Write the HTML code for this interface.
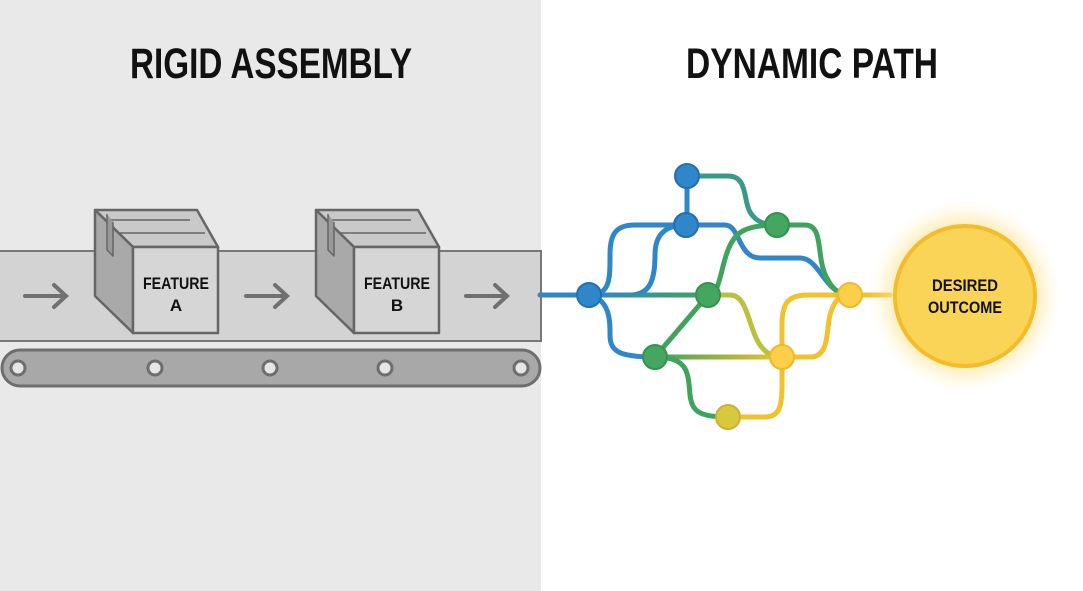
<!DOCTYPE html>
<html><head><meta charset="utf-8"><style>
html,body{margin:0;padding:0;width:1083px;height:591px;overflow:hidden;background:#fff}
svg{display:block}
text{font-family:"Liberation Sans",sans-serif;font-weight:bold}
</style></head><body>
<svg width="1083" height="591" viewBox="0 0 1083 591">
<defs>
<linearGradient id="bg" gradientUnits="userSpaceOnUse" x1="589" y1="0" x2="708" y2="0"><stop offset="0" stop-color="#2f86c8"/><stop offset="1" stop-color="#3fa35e"/></linearGradient>
<linearGradient id="gy" gradientUnits="userSpaceOnUse" x1="655" y1="0" x2="782" y2="0"><stop offset="0" stop-color="#3fa35e"/><stop offset="1" stop-color="#f3c12e"/></linearGradient>
<radialGradient id="glow"><stop offset="0.6" stop-color="#fbd86a" stop-opacity="0.9"/><stop offset="1" stop-color="#fff3c8" stop-opacity="0"/></radialGradient>
</defs>
<rect x="0" y="0" width="541" height="591" fill="#e9e9e9"/>
<text x="271" y="78" font-size="43" text-anchor="middle" textLength="282" lengthAdjust="spacingAndGlyphs" fill="#111">RIGID ASSEMBLY</text>
<text x="812" y="78" font-size="43" text-anchor="middle" textLength="252" lengthAdjust="spacingAndGlyphs" fill="#111">DYNAMIC PATH</text>
<!-- belt -->
<rect x="-2" y="251" width="543" height="90" fill="#d3d3d3" stroke="#777" stroke-width="2"/>
<rect x="2" y="350" width="538" height="36" rx="18" fill="#a8a8a8" stroke="#6e6e6e" stroke-width="3"/>
<g fill="#e6e6e6" stroke="#6e6e6e" stroke-width="3">
<circle cx="18" cy="368" r="7"/><circle cx="155" cy="368" r="7"/><circle cx="270" cy="368" r="7"/><circle cx="385" cy="368" r="7"/><circle cx="521" cy="368" r="7"/></g>
<g stroke="#707070" stroke-width="4" fill="none" stroke-linecap="round">
<path d="M25 296H66M54 285L66 296L54 307"/>
<path d="M246 296H287M275 285L287 296L275 307"/>
<path d="M466 296H507M495 285L507 296L495 307"/>
</g>
<!-- boxes -->
<g id="box" stroke="#666" stroke-width="2.5" stroke-linejoin="round">
<path d="M95 210H197L218 247H133Z" fill="#c9c9c9"/>
<path d="M95 210L133 247V333L95 296Z" fill="#a9a9a9"/>
<rect x="133" y="247" width="85" height="86" fill="#d6d6d6"/>
<path d="M105 220H190M118 233H205" fill="none" stroke-width="1.5"/>
<path d="M107 214V250L113 256V222" fill="#999" stroke-width="1.5"/>
</g>
<text x="176" y="289" font-size="17" text-anchor="middle" textLength="66" lengthAdjust="spacingAndGlyphs" fill="#111">FEATURE</text>
<text x="176" y="311" font-size="17" text-anchor="middle" fill="#111">A</text>
<use href="#box" transform="translate(221 0)"/>
<text x="397" y="289" font-size="17" text-anchor="middle" textLength="66" lengthAdjust="spacingAndGlyphs" fill="#111">FEATURE</text>
<text x="397" y="311" font-size="17" text-anchor="middle" fill="#111">B</text>
<!-- network -->
<g fill="none" stroke-width="5" stroke-linecap="round">
<path d="M540 295H589" stroke="#2f86c8"/>
<path d="M589 295C610 295 610 280 610 255C610 235 615 225 635 225H686" stroke="#2f86c8"/>
<path d="M630 295C650 295 655 280 655 255C655 235 665 225 686 225" stroke="#2f86c8"/>
<path d="M687 176V225" stroke="#2f86c8"/>
<path d="M687 176H728C748 176 743 200 750 212C756 222 765 225 777 225" stroke="#3a9a8a"/>
<path d="M686 225H725C740 225 738 258 760 258H800C820 258 825 295 850 295" stroke="#2f86c8"/>
<path d="M777 225H805C825 225 815 260 828 280C833 290 840 295 850 295" stroke="#3fa35e"/>
<path d="M708 295C720 295 720 270 728 250C735 232 745 225 777 225" stroke="#3fa35e"/>
<path d="M589 295H708" stroke="url(#bg)"/>
<path d="M708 295L655 357" stroke="#3fa35e"/>
<path d="M589 295C610 300 610 320 610 335C610 352 620 357 655 357" stroke="#2f86c8"/>
<path d="M655 357H782" stroke="url(#gy)"/>
<path d="M708 295H730C755 295 745 357 782 357" stroke="#b9c13e"/>
<path d="M655 357C690 357 688 375 690 395C692 412 700 417 728 417" stroke="#3fa35e"/>
<path d="M728 417H765C780 417 782 405 782 385V357" stroke="#f3c12e"/>
<path d="M782 357V325C782 300 790 295 810 295H890" stroke="#f3c12e"/>
<path d="M782 357H810C830 357 826 330 830 315C834 300 840 295 850 295" stroke="#f3c12e"/>
</g>
<g stroke-width="2">
<circle cx="687" cy="176" r="12" fill="#2f86c8" stroke="#2270b0"/>
<circle cx="686" cy="225" r="12" fill="#2f86c8" stroke="#2270b0"/>
<circle cx="589" cy="295" r="12" fill="#2f86c8" stroke="#2270b0"/>
<circle cx="777" cy="225" r="12" fill="#44a660" stroke="#36924f"/>
<circle cx="708" cy="295" r="12" fill="#44a660" stroke="#36924f"/>
<circle cx="655" cy="357" r="12" fill="#44a660" stroke="#36924f"/>
<circle cx="782" cy="357" r="12" fill="#fbd048" stroke="#f0b82a"/>
<circle cx="850" cy="295" r="12" fill="#fbd048" stroke="#f0b82a"/>
<circle cx="728" cy="417" r="12" fill="#d8c840" stroke="#c9b430"/>
</g>
<circle cx="965" cy="296" r="96" fill="url(#glow)"/>
<circle cx="965" cy="296" r="70" fill="#fad457" stroke="#f3bc2a" stroke-width="4"/>
<text x="965" y="291" font-size="17" text-anchor="middle" textLength="66" lengthAdjust="spacingAndGlyphs" fill="#111">DESIRED</text>
<text x="965" y="313" font-size="17" text-anchor="middle" textLength="74" lengthAdjust="spacingAndGlyphs" fill="#111">OUTCOME</text>
</svg>
</body></html>
